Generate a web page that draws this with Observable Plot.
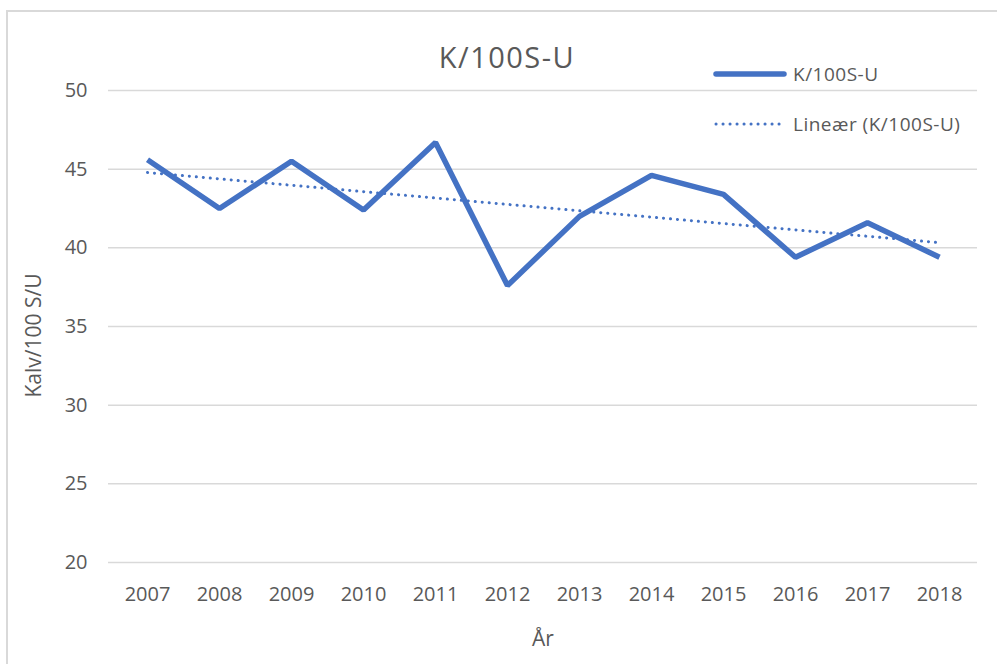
<!DOCTYPE html>
<html>
<head>
<meta charset="utf-8">
<script src="https://cdn.jsdelivr.net/npm/d3@7"></script>
<script src="https://cdn.jsdelivr.net/npm/@observablehq/plot@0.6"></script>
<style>
  html, body { margin: 0; padding: 0; background: #fff; }
  #wrap { position: relative; width: 997px; height: 664px; overflow: hidden; font-family: "Open Sans", "Noto Sans", sans-serif; color: #595959; }
  #border { position: absolute; left: 6px; top: 10px; width: 1100px; height: 800px; border-top: 2px solid #d9d9d9; border-left: 2px solid #d9d9d9; box-sizing: border-box; }
  #title { position: absolute; left: 0; width: 1014px; top: 39px; text-align: center; font-size: 29px; letter-spacing: 1.5px; line-height: 36px; }
  .leg { position: absolute; left: 713px; display: flex; align-items: center; font-size: 19px; letter-spacing: 0.5px; line-height: 24px; }
  .leg svg { margin-right: 6px; }
  #chart { position: absolute; left: 0; top: 0; }
</style>
</head>
<body>
<div id="wrap">
  <div id="border"></div>
  <div id="chart"></div>
  <div id="title"></div>
  <div class="leg" id="leg1" style="top:62px"></div>
  <div class="leg" id="leg2" style="top:112px"></div>
</div>
<script>
const years = [2007, 2008, 2009, 2010, 2011, 2012, 2013, 2014, 2015, 2016, 2017, 2018];
const values = [45.6, 42.5, 45.5, 42.4, 46.7, 37.6, 42.0, 44.6, 43.4, 39.4, 41.6, 39.4];
const yTicks = [20, 25, 30, 35, 40, 45, 50];
const titleText = "K/100S-U";
const seriesName = "K/100S-U";
const trendName = "Lineær (K/100S-U)";
const xLabel = "År";
const yLabel = "Kalv/100 S/U";

const data = years.map((year, i) => ({year, value: values[i]}));
const blue = "#4472C4";
const grey = "#595959";

const chart = Plot.plot({
  width: 997,
  height: 664,
  marginLeft: 108,
  marginRight: 20,
  marginTop: 90,
  marginBottom: 102,
  style: {fontFamily: '"Open Sans", "Noto Sans", sans-serif', color: grey, background: "transparent"},
  x: {type: "point", domain: years, padding: 0.5},
  y: {domain: [20, 50]},
  marks: [
    Plot.gridY(yTicks, {stroke: "#d9d9d9", strokeOpacity: 1, strokeWidth: 1.5}),
    Plot.axisY(yTicks, {tickSize: 0, tickPadding: 21, fontSize: 20, fill: grey, label: null, letterSpacing: 0.5}),
    Plot.axisX(years, {tickSize: 0, tickPadding: 24, fontSize: 20, fill: grey, label: null, tickFormat: d => String(d), letterSpacing: 0.6}),
    Plot.text([yLabel], {frameAnchor: "left", textAnchor: "middle", dx: -74, dy: 9, rotate: -90, fontSize: 21, letterSpacing: 1.6, fill: grey, text: d => d}),
    Plot.text([xLabel], {frameAnchor: "bottom", dy: 83, fontSize: 21, fill: grey, text: d => d}),
    Plot.linearRegressionY(data, {x: "year", y: "value", ci: 0, stroke: blue, strokeWidth: 3, strokeDasharray: "0.1,6.9", strokeLinecap: "round"}),
    Plot.line(data, {x: "year", y: "value", stroke: blue, strokeWidth: 5.5, strokeLinejoin: "miter", strokeLinecap: "butt"})
  ]
});
document.getElementById("chart").appendChild(chart);

document.getElementById("title").textContent = titleText;
document.getElementById("leg1").innerHTML =
  `<svg width="74" height="8"><line x1="3" y1="4" x2="71" y2="4" stroke="${blue}" stroke-width="5.5" stroke-linecap="round"/></svg><span>${seriesName}</span>`;
document.getElementById("leg2").innerHTML =
  `<svg width="74" height="8"><line x1="3" y1="4" x2="71" y2="4" stroke="${blue}" stroke-width="3" stroke-dasharray="0.1,6.9" stroke-linecap="round"/></svg><span>${trendName}</span>`;
</script>
</body>
</html>
